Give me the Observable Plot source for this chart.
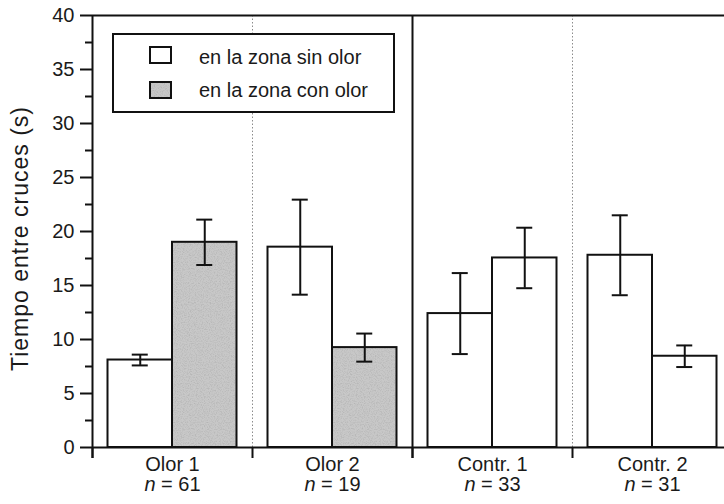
<!DOCTYPE html>
<html>
<head>
<meta charset="utf-8">
<script src="https://cdn.jsdelivr.net/npm/d3@7"></script>
<script src="https://cdn.jsdelivr.net/npm/@observablehq/plot@0.6"></script>
<style>
  html, body { margin: 0; padding: 0; background: #fff; overflow: hidden; }
  #chart { width: 724px; height: 504px; overflow: hidden; }
</style>
</head>
<body>
<div id="chart"></div>
<script>
// Mean time between crossings (s) per trial group, with error bars
const groups = ["Olor 1", "Olor 2", "Contr. 1", "Contr. 2"];
const sampleSizes = [61, 19, 33, 31];
// first bar of each pair: time in the zone without odour
const firstMean = [8.1, 18.55, 12.4, 17.8];
const firstErr = [0.5, 4.4, 3.75, 3.7];
// second bar of each pair: time in the odour zone (controls: no odour on either side)
const secondMean = [19.0, 9.25, 17.55, 8.45];
const secondErr = [2.1, 1.3, 2.8, 1.0];
const secondWithOdor = [true, true, false, false];
const legendLabels = ["en la zona sin olor", "en la zona con olor"];
const yTitle = "Tiempo entre cruces (s)";
const yTicks = [0, 5, 10, 15, 20, 25, 30, 35, 40];
const yMinorTicks = [2.5, 7.5, 12.5, 17.5, 22.5, 27.5, 32.5, 37.5];

const rows = groups.map((group, i) => ({
  group,
  n: sampleSizes[i],
  m1: firstMean[i], e1: firstErr[i],
  m2: secondMean[i], e2: secondErr[i],
  odor: secondWithOdor[i]
}));

// layout
const W = 732, H = 504;
const mL = 92, mR = 0, mT = 15, mB = 57;
const bandW = (W - mL - mR) / groups.length;
const half = bandW / 2;
const outerGap = 15.5;                 // space between group edge and bar pair
const barW = half - outerGap;
const capHalf = 8;                     // half width of error-bar caps
const c1 = outerGap + barW / 2;        // centre of first bar inside band
const c2 = half + barW / 2;            // centre of second bar inside band
const ink = "#111";
const textInk = "#1a1a1a";
const font = "'Liberation Sans', Arial, Helvetica, sans-serif";

const plot = Plot.plot({
  width: W, height: H,
  marginLeft: mL, marginRight: mR, marginTop: mT, marginBottom: mB,
  style: { fontFamily: font, fontSize: "20px", color: textInk, background: "#fff", maxWidth: "none", overflow: "visible" },
  x: { domain: groups, padding: 0, axis: null },
  y: { domain: [0, 40], axis: null },
  marks: [
    // dotted dividers inside each condition
    Plot.ruleX(groups.filter((_, i) => i % 2 === 1), { x: d => d, dx: -half, stroke: "#8c8c8c", strokeWidth: 1, strokeDasharray: "1.5,2" }),
    // bars
    Plot.barY(rows, { x: "group", y: "m1", insetLeft: outerGap, insetRight: half, fill: "#fff", stroke: ink, strokeWidth: 2 }),
    Plot.barY(rows, { filter: d => d.odor, x: "group", y: "m2", insetLeft: half, insetRight: outerGap, fill: "url(#stipple)", stroke: ink, strokeWidth: 2 }),
    Plot.barY(rows, { filter: d => !d.odor, x: "group", y: "m2", insetLeft: half, insetRight: outerGap, fill: "#fff", stroke: ink, strokeWidth: 2 }),
    // error bars
    Plot.ruleX(rows, { x: "group", y1: d => d.m1 - d.e1, y2: d => d.m1 + d.e1, dx: c1 - half, stroke: ink, strokeWidth: 2 }),
    Plot.ruleX(rows, { x: "group", y1: d => d.m2 - d.e2, y2: d => d.m2 + d.e2, dx: c2 - half, stroke: ink, strokeWidth: 2 }),
    Plot.tickY(rows, { x: "group", y: d => d.m1 - d.e1, insetLeft: c1 - capHalf, insetRight: bandW - c1 - capHalf, stroke: ink, strokeWidth: 2 }),
    Plot.tickY(rows, { x: "group", y: d => d.m1 + d.e1, insetLeft: c1 - capHalf, insetRight: bandW - c1 - capHalf, stroke: ink, strokeWidth: 2 }),
    Plot.tickY(rows, { x: "group", y: d => d.m2 - d.e2, insetLeft: c2 - capHalf, insetRight: bandW - c2 - capHalf, stroke: ink, strokeWidth: 2 }),
    Plot.tickY(rows, { x: "group", y: d => d.m2 + d.e2, insetLeft: c2 - capHalf, insetRight: bandW - c2 - capHalf, stroke: ink, strokeWidth: 2 }),
    // frame: top and bottom lines, y axis and the solid divider between conditions
    Plot.ruleY([0, 40], { stroke: ink, strokeWidth: 2 }),
    Plot.ruleX(groups.filter((_, i) => i % 2 === 0), { x: d => d, dx: -half, stroke: ink, strokeWidth: 2, insetBottom: -11 }),
    Plot.ruleX(groups, { x: d => d, dx: -half, stroke: ink, strokeWidth: 2, insetTop: H - mT - mB, insetBottom: -11 }),
    // y axis ticks
    Plot.axisY({ ticks: yTicks, tickSize: 12, tickPadding: 6, stroke: ink, strokeWidth: 2, fill: textInk, fontSize: 20, label: null }),
    Plot.axisY({ ticks: yMinorTicks, tickSize: 7, tickFormat: () => "", stroke: ink, strokeWidth: 2, label: null }),
    // group labels
    Plot.text(rows, { x: "group", text: "group", frameAnchor: "bottom", dy: 23.5, fontSize: 20, fill: textInk }),
    Plot.text(rows, { x: "group", text: d => `n = ${d.n}`, frameAnchor: "bottom", dy: 43.5, fontSize: 20, fill: textInk })
  ]
});

document.getElementById("chart").appendChild(plot);
const svg = d3.select(plot);

// stipple texture for the odour-zone bars
const defs = svg.insert("defs", ":first-child");
const grain = defs.append("filter").attr("id", "grain").attr("x", 0).attr("y", 0).attr("width", "100%").attr("height", "100%");
grain.append("feTurbulence").attr("type", "fractalNoise").attr("baseFrequency", 0.85).attr("numOctaves", 2).attr("seed", 7).attr("result", "noise");
grain.append("feColorMatrix").attr("in", "noise").attr("type", "matrix")
  .attr("values", "0 0 0 0 0.42  0 0 0 0 0.42  0 0 0 0 0.42  1.7 0 0 0 -0.72");
const pat = defs.append("pattern").attr("id", "stipple").attr("patternUnits", "userSpaceOnUse").attr("width", 160).attr("height", 160);
pat.append("rect").attr("width", 160).attr("height", 160).attr("fill", "#c8c8c8");
pat.append("rect").attr("width", 160).attr("height", 160).attr("filter", "url(#grain)");

// italic "n" in the sample-size labels
svg.selectAll("text").filter(function () { return this.textContent.startsWith("n = "); }).each(function () {
  const rest = this.textContent.slice(1);
  const t = d3.select(this);
  t.text(null);
  t.append("tspan").attr("font-style", "italic").text("n");
  t.append("tspan").text(rest);
});

// y title, centred a little below the middle of the frame
svg.append("text")
  .attr("transform", "translate(21,238.5) rotate(-90)")
  .attr("text-anchor", "middle").attr("dy", "0.32em")
  .attr("font-family", font).attr("font-size", 23).attr("letter-spacing", "1px")
  .attr("fill", textInk)
  .text(yTitle);

// legend box
const lg = svg.append("g").attr("font-family", font).attr("font-size", 20).attr("fill", textInk).attr("text-anchor", "start");
lg.append("rect").attr("x", 113).attr("y", 34).attr("width", 281).attr("height", 78)
  .attr("fill", "#fff").attr("stroke", ink).attr("stroke-width", 2);
const swatchY = [47, 82];
const labelY = [63.5, 97];
legendLabels.forEach((label, i) => {
  lg.append("rect").attr("x", 150).attr("y", swatchY[i]).attr("width", 21).attr("height", 16)
    .attr("fill", i === 0 ? "#fff" : "url(#stipple)").attr("stroke", ink).attr("stroke-width", 2);
  lg.append("text").attr("x", 199).attr("y", labelY[i]).text(label);
});
</script>
</body>
</html>
